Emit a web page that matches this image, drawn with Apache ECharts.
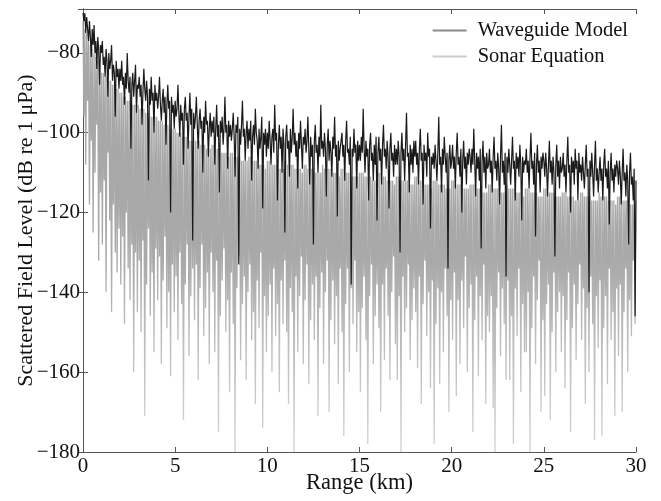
<!DOCTYPE html>
<html>
<head>
<meta charset="utf-8">
<script src="https://cdn.jsdelivr.net/npm/echarts@6/dist/echarts.min.js"></script>
<style>
  html, body { margin: 0; padding: 0; background: #fff; }
  #main { width: 661px; height: 501px; }
</style>
</head>
<body>
<div id="main"></div>
<script>
// range samples every 0.05 km, 0 .. 30 km
var rangeStepKm = 0.05;

// Waveguide Model, dB re 1 uPa (one row per km)
var waveguideLevel = [
  -70, -72, -70, -75, -71, -74, -77, -72, -76, -81, -74, -78, -73, -80, -77, -84, -76, -79, -88, -78,
  -80, -77, -83, -81, -86, -79, -82, -91, -80, -84, -82, -78, -87, -83, -85, -96, -82, -86, -84, -89,
  -84, -87, -82, -88, -86, -93, -85, -89, -80, -87, -90, -86, -104, -88, -85, -91, -87, -83, -95, -88,
  -89, -86, -91, -88, -98, -90, -84, -89, -92, -87, -91, -112, -89, -93, -86, -92, -90, -100, -88, -92,
  -90, -94, -91, -86, -93, -97, -92, -89, -95, -91, -103, -93, -88, -94, -92, -120, -91, -95, -93, -99,
  -92, -96, -94, -88, -95, -101, -93, -97, -95, -108, -94, -91, -97, -95, -104, -96, -90, -98, -94, -127,
  -95, -99, -96, -91, -98, -104, -97, -94, -99, -97, -110, -96, -100, -92, -98, -97, -106, -99, -95, -101,
  -97, -100, -96, -108, -99, -93, -101, -98, -115, -97, -100, -96, -103, -99, -91, -100, -98, -109, -97, -101,
  -98, -102, -99, -95, -101, -111, -98, -100, -96, -133, -99, -103, -98, -92, -101, -99, -107, -100, -97, -104,
  -99, -102, -97, -112, -101, -98, -103, -94, -100, -102, -109, -99, -104, -101, -96, -119, -100, -103, -99, -106,
  -100, -104, -97, -102, -108, -101, -99, -105, -93, -102, -100, -117, -103, -98, -104, -101, -110, -99, -103, -125,
  -101, -98, -104, -102, -111, -99, -105, -101, -94, -103, -100, -106, -102, -114, -100, -104, -97, -103, -109, -101,
  -103, -99, -105, -102, -96, -104, -113, -101, -106, -103, -128, -102, -98, -105, -103, -110, -101, -106, -93, -104,
  -102, -106, -100, -104, -116, -103, -99, -107, -102, -105, -111, -101, -104, -96, -106, -103, -121, -102, -107, -104,
  -104, -100, -106, -103, -112, -102, -97, -105, -104, -108, -101, -138, -104, -106, -99, -105, -103, -114, -102, -107,
  -103, -107, -101, -105, -94, -104, -110, -102, -106, -104, -117, -103, -100, -107, -105, -112, -103, -108, -101, -122,
  -105, -101, -107, -104, -113, -103, -98, -106, -104, -109, -102, -106, -119, -104, -100, -107, -105, -111, -103, -108,
  -104, -108, -102, -106, -130, -105, -100, -107, -104, -112, -103, -95, -106, -105, -115, -103, -108, -104, -110, -102,
  -106, -102, -108, -105, -113, -104, -99, -107, -105, -118, -103, -107, -105, -111, -100, -106, -104, -124, -106, -108,
  -105, -109, -103, -107, -112, -105, -96, -108, -106, -115, -104, -108, -101, -106, -110, -105, -134, -107, -103, -109,
  -107, -103, -109, -106, -114, -105, -100, -108, -106, -111, -104, -120, -107, -102, -109, -106, -113, -105, -108, -104,
  -106, -110, -104, -108, -99, -107, -116, -105, -109, -106, -112, -104, -129, -107, -102, -110, -106, -114, -105, -109,
  -108, -104, -110, -107, -115, -106, -101, -109, -107, -112, -105, -109, -118, -106, -98, -110, -107, -113, -105, -136,
  -106, -110, -104, -108, -113, -107, -101, -109, -107, -117, -105, -109, -106, -111, -103, -108, -122, -106, -110, -107,
  -108, -104, -110, -107, -114, -106, -100, -109, -107, -113, -105, -126, -108, -103, -110, -107, -115, -106, -109, -105,
  -107, -111, -105, -109, -116, -108, -102, -110, -107, -113, -106, -110, -131, -108, -103, -111, -107, -114, -106, -110,
  -109, -105, -111, -108, -115, -107, -101, -110, -108, -120, -106, -110, -107, -113, -104, -109, -107, -117, -105, -110,
  -108, -112, -106, -110, -114, -108, -103, -111, -109, -140, -107, -111, -105, -110, -116, -108, -102, -112, -109, -115,
  -110, -106, -112, -109, -117, -108, -104, -111, -109, -114, -107, -123, -110, -105, -112, -109, -115, -108, -111, -107,
  -109, -113, -107, -111, -118, -110, -104, -112, -110, -116, -108, -112, -128, -110, -105, -113, -111, -117, -109, -146,
  -112
];

// Sonar Equation, dB re 1 uPa (one row per km)
var sonarLevel = [
  -72, -96, -74, -108, -75, -92, -77, -118, -78, -102, -79, -125, -80, -110, -81, -98, -82, -132, -83, -115,
  -85, -128, -85, -112, -86, -140, -86, -105, -87, -122, -87, -145, -88, -118, -88, -130, -89, -135, -89, -124,
  -90, -138, -90, -126, -91, -148, -91, -120, -92, -134, -92, -142, -92, -128, -93, -160, -93, -130, -93, -145,
  -93, -132, -94, -150, -94, -127, -94, -171, -95, -138, -95, -124, -95, -146, -96, -135, -96, -155, -96, -129,
  -96, -142, -97, -131, -97, -158, -97, -137, -98, -126, -98, -149, -98, -140, -99, -161, -99, -133, -99, -145,
  -99, -136, -100, -152, -100, -130, -100, -143, -101, -172, -101, -138, -101, -128, -102, -156, -102, -141, -102, -134,
  -101, -147, -102, -133, -102, -162, -102, -139, -103, -128, -103, -151, -103, -144, -104, -135, -104, -158, -104, -130,
  -103, -140, -103, -155, -104, -132, -104, -175, -104, -146, -105, -137, -105, -129, -105, -150, -105, -142, -106, -165,
  -105, -135, -105, -148, -106, -180, -106, -139, -106, -131, -106, -157, -107, -143, -107, -136, -107, -162, -107, -140,
  -106, -133, -106, -152, -107, -145, -107, -168, -107, -137, -108, -149, -108, -130, -108, -174, -108, -141, -109, -155,
  -107, -146, -107, -138, -108, -160, -108, -134, -108, -151, -108, -143, -109, -165, -109, -137, -109, -148, -109, -132,
  -107, -150, -108, -168, -108, -139, -108, -145, -108, -180, -109, -136, -109, -155, -109, -141, -109, -131, -110, -158,
  -108, -142, -108, -133, -109, -163, -109, -147, -109, -138, -109, -152, -110, -136, -110, -171, -110, -144, -110, -135,
  -108, -158, -109, -140, -109, -132, -109, -170, -109, -147, -110, -137, -110, -153, -110, -141, -110, -163, -111, -134,
  -109, -150, -109, -176, -110, -143, -110, -134, -110, -160, -110, -139, -111, -148, -111, -132, -111, -155, -111, -145,
  -110, -165, -110, -144, -110, -136, -111, -152, -111, -178, -111, -141, -111, -133, -112, -158, -112, -146, -112, -138,
  -110, -149, -110, -170, -111, -138, -111, -157, -111, -134, -112, -146, -112, -162, -112, -140, -112, -131, -113, -153,
  -111, -162, -111, -141, -111, -180, -112, -136, -112, -150, -112, -144, -112, -133, -113, -157, -113, -147, -113, -139,
  -111, -145, -111, -159, -112, -136, -112, -168, -112, -143, -113, -132, -113, -151, -113, -140, -113, -164, -114, -137,
  -112, -178, -112, -148, -112, -139, -113, -163, -113, -140, -113, -155, -113, -134, -114, -146, -114, -170, -114, -142,
  -112, -152, -112, -135, -113, -166, -113, -142, -113, -158, -113, -137, -114, -149, -114, -131, -114, -160, -114, -144,
  -113, -138, -113, -175, -113, -147, -114, -136, -114, -161, -114, -141, -114, -152, -115, -133, -115, -168, -115, -146,
  -113, -150, -113, -141, -114, -169, -114, -180, -114, -144, -114, -135, -115, -156, -115, -139, -115, -148, -115, -162,
  -113, -137, -114, -162, -114, -146, -114, -178, -114, -139, -115, -151, -115, -134, -115, -165, -115, -143, -116, -155,
  -114, -155, -114, -140, -114, -180, -115, -149, -115, -136, -115, -158, -115, -142, -116, -132, -116, -170, -116, -147,
  -114, -166, -114, -143, -115, -138, -115, -172, -115, -150, -115, -135, -116, -160, -116, -145, -116, -140, -116, -155,
  -115, -141, -115, -164, -115, -147, -116, -135, -116, -175, -116, -149, -116, -138, -117, -157, -117, -143, -117, -133,
  -115, -152, -115, -139, -116, -168, -116, -144, -116, -160, -116, -136, -117, -148, -117, -177, -117, -141, -117, -154,
  -115, -137, -116, -176, -116, -149, -116, -141, -116, -163, -117, -134, -117, -152, -117, -145, -117, -171, -118, -139,
  -116, -156, -116, -138, -116, -170, -117, -145, -117, -134, -117, -160, -117, -142, -118, -151, -118, -132, -118, -148,
  -117
];

var seriesNames = ['Waveguide Model', 'Sonar Equation'];
var legendColors = ['#8a8a8a', '#cccccc'];

var chart = echarts.init(document.getElementById('main'), null, { renderer: 'canvas' });

var font = 'Liberation Serif';

function toPairs(arr) {
  return arr.map(function (v, i) {
    return [+(i * rangeStepKm).toFixed(2), v];
  });
}

function minus(v) {
  return String(v).replace('-', '\u2212');
}

// dense strokes look darker near the top, sparse dips look lighter
var sonarStroke = new echarts.graphic.LinearGradient(0, 0, 0, 1, [
  { offset: 0, color: '#a6a6a6' },
  { offset: 0.55, color: '#a9a9a9' },
  { offset: 0.7, color: '#b9b9b9' },
  { offset: 0.85, color: '#c8c8c8' },
  { offset: 1, color: '#d2d2d2' }
]);

var option = {
  backgroundColor: '#ffffff',
  animation: false,
  grid: { left: 83, right: 25, top: 9, bottom: 49, outerBoundsMode: 'none', containLabel: false },
  legend: {
    orient: 'vertical',
    right: 28,
    top: 15,
    icon: 'rect',
    itemWidth: 34,
    itemHeight: 2,
    itemGap: 5,
    textStyle: { fontFamily: font, fontSize: 20.5, color: '#111', padding: [0, 0, 0, 6] },
    data: [
      { name: seriesNames[0], itemStyle: { color: legendColors[0] } },
      { name: seriesNames[1], itemStyle: { color: legendColors[1] } }
    ]
  },
  xAxis: [{
    type: 'value',
    min: 0,
    max: 30,
    interval: 5,
    name: 'Range (km)',
    nameLocation: 'middle',
    nameGap: 20,
    nameMoveOverlap: false,
    nameTextStyle: { fontFamily: font, fontSize: 22.5, color: '#111' },
    axisLine: { lineStyle: { color: '#555', width: 1 } },
    axisTick: { inside: true, length: 5, lineStyle: { color: '#555' } },
    axisLabel: { fontFamily: font, fontSize: 21, color: '#111', margin: 4 },
    splitLine: { show: false }
  }, {
    type: 'value',
    position: 'top',
    min: 0,
    max: 30,
    interval: 5,
    axisLine: { show: true, lineStyle: { color: '#555', width: 1 } },
    axisTick: { inside: true, length: 5, lineStyle: { color: '#555' } },
    axisLabel: { show: false },
    splitLine: { show: false }
  }],
  yAxis: [{
    type: 'value',
    min: -180,
    max: -69,
    interval: 20,
    name: 'Scattered Field Level (dB re 1 \u03bcPa)',
    nameLocation: 'middle',
    nameGap: 46,
    nameMoveOverlap: false,
    nameTextStyle: { fontFamily: font, fontSize: 22, color: '#111' },
    axisLine: { show: true, lineStyle: { color: '#555', width: 1 } },
    axisTick: { inside: true, length: 5, lineStyle: { color: '#555' } },
    axisLabel: {
      fontFamily: font, fontSize: 21, color: '#111', margin: 3,
      showMaxLabel: false,
      formatter: minus
    },
    splitLine: { show: false }
  }, {
    type: 'value',
    position: 'right',
    min: -180,
    max: -69,
    interval: 20,
    axisLine: { show: true, lineStyle: { color: '#555', width: 1 } },
    axisTick: { inside: true, length: 5, lineStyle: { color: '#555' } },
    axisLabel: { show: false },
    splitLine: { show: false }
  }],
  series: [{
    name: seriesNames[1],
    type: 'line',
    symbol: 'none',
    sampling: null,
    z: 2,
    lineStyle: { color: sonarStroke, width: 1.3 },
    itemStyle: { color: legendColors[1] },
    data: toPairs(sonarLevel)
  }, {
    name: seriesNames[0],
    type: 'line',
    symbol: 'none',
    sampling: null,
    z: 3,
    lineStyle: { color: '#1a1a1a', width: 1.2 },
    itemStyle: { color: legendColors[0] },
    data: toPairs(waveguideLevel)
  }]
};

chart.setOption(option);
</script>
</body>
</html>
